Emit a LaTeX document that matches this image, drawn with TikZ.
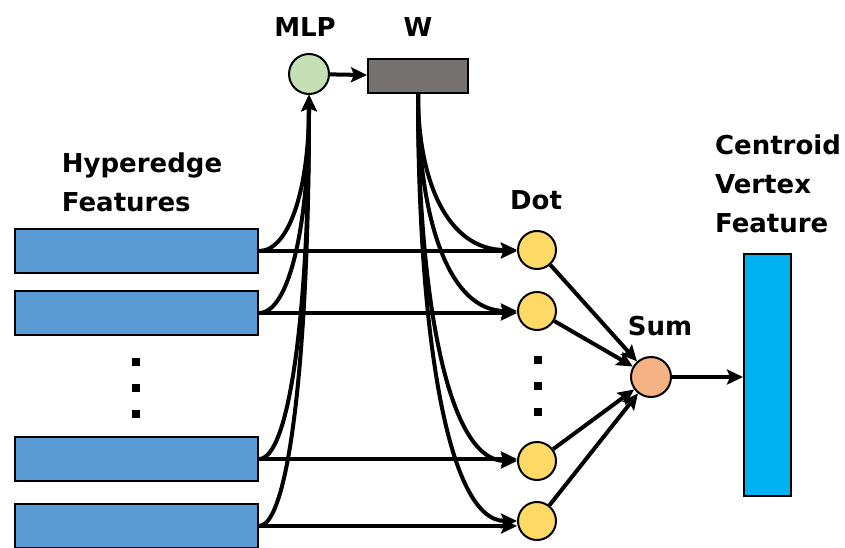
\documentclass[tikz,border=0pt]{standalone}
\usepackage{fontspec}
\setmainfont{DejaVu Sans}
\usepackage{xcolor}
\usepackage{tikz}
\usetikzlibrary{arrows.meta}

\definecolor{featblue}{HTML}{5B9BD5}
\definecolor{mlpgreen}{HTML}{C5E0B4}
\definecolor{wgray}{HTML}{767171}
\definecolor{dotyellow}{HTML}{FFD966}
\definecolor{sumorange}{HTML}{F4B183}
\definecolor{cvblue}{HTML}{00B0F0}

\begin{document}
\begin{tikzpicture}[x=1pt,y=-1pt,
  lbl/.style={font=\fontsize{26}{39}\selectfont\bfseries,inner sep=0pt},
  feat/.style={draw,fill=featblue,line width=2pt,minimum width=243pt,minimum height=44pt,inner sep=0pt},
  ball/.style={circle,draw,line width=2pt,minimum size=38pt,inner sep=0pt},
  arr/.style={line width=4pt,-{Stealth[length=16pt,width=15pt,inset=3pt]}}]
\useasboundingbox (0,0) rectangle (845,548);

% hyperedge features
\node[feat] (f1) at (136.5,251) {};
\node[feat] (f2) at (136.5,313) {};
\node[feat] (f3) at (136.5,459) {};
\node[feat] (f4) at (136.5,526) {};
\foreach \y in {362,388,414}
  \fill (132,\y-4) rectangle (140,\y+4);
\node[lbl,align=left] (hflbl) at (142,182) {Hyperedge\\Features};

% MLP and W
\node[ball,fill=mlpgreen,minimum size=40pt] (mlp) at (309,74) {};
\node[lbl] at (305,27) {MLP};
\node[draw,fill=wgray,line width=2pt,minimum width=100pt,minimum height=34pt,inner sep=0pt] (w) at (418,76) {};
\node[lbl] at (418,27) {W};
\draw[arr] (mlp) -- (w);

% dot products
\node[ball,fill=dotyellow] (d1) at (537,250) {};
\node[ball,fill=dotyellow] (d2) at (537,311) {};
\node[ball,fill=dotyellow] (d3) at (537,461) {};
\node[ball,fill=dotyellow] (d4) at (537,521) {};
\foreach \y in {360,386,412}
  \fill (534,\y-4) rectangle (542,\y+4);
\node[lbl] at (536,200) {Dot};

% sum and centroid
\node[ball,fill=sumorange,minimum size=40pt] (sum) at (651,377) {};
\node[lbl] at (660,326) {Sum};
\node[draw,fill=cvblue,line width=2pt,minimum width=47pt,minimum height=242pt,inner sep=0pt] (cv) at (767.5,375) {};
\node[lbl,align=left] (cvlbl) at (778,184) {Centroid\\Vertex\\Feature};

% connections
\foreach \i/\dy in {1/157,2/219,3/365,4/431}{
  \draw[arr] (f\i.east) -- (d\i.west |- f\i.east);
  \draw[arr] (f\i.east) to[out=0,in=-90,out distance=30pt,in distance=0.6*\dy] (mlp.south);
  \draw[arr] (w.south) to[out=-90,in=180,out distance=0.55*\dy,in distance=70pt] (d\i.west);
  \draw[arr] (d\i) -- (sum);
}
\draw[arr] (sum) -- (cv.west |- sum);
\end{tikzpicture}
\end{document}
